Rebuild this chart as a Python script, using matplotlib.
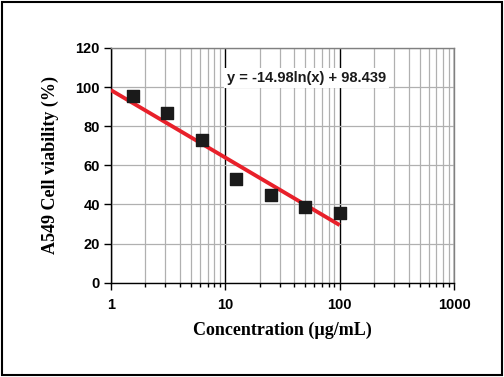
import numpy as np
import matplotlib.pyplot as plt
from matplotlib.ticker import LogLocator, NullFormatter
from matplotlib.patches import Rectangle

# Data
conc = [1.5625, 3.125, 6.25, 12.5, 25, 50, 100]
viability = [95.5, 86.5, 73.0, 53.0, 45.0, 38.8, 35.8]
slope = -14.98
intercept = 98.439
eq_label = "y = -14.98ln(x) + 98.439"

fig = plt.figure(figsize=(5.04, 3.77), dpi=100)
ax = fig.add_axes([0.220, 0.250, 0.681, 0.623])

# frame around whole picture
fig.patches.append(Rectangle((0.004, 0.005), 0.992, 0.99, transform=fig.transFigure,
                             fill=False, edgecolor='black', linewidth=1.5))

ax.set_xscale('log')
ax.set_xlim(1, 1000)
ax.set_ylim(0, 120)
ax.set_yticks(np.arange(0, 121, 20))
ax.xaxis.set_minor_locator(LogLocator(base=10, subs=np.arange(2, 10)))
ax.xaxis.set_minor_formatter(NullFormatter())
ax.set_xticks([1, 10, 100, 1000])
ax.set_xticklabels(['1', '10', '100', '1000'])

# grid: grey minor / horizontal, black major verticals
ax.grid(True, which='minor', axis='x', color='#b0b0b0', linewidth=0.9)
ax.grid(True, which='major', axis='y', color='#b0b0b0', linewidth=0.9)
ax.grid(True, which='major', axis='x', color='black', linewidth=1.0)
ax.set_axisbelow(True)

for s in ax.spines.values():
    s.set_color('#808080')
    s.set_linewidth(1.0)
ax.spines['left'].set_color('black')
ax.spines['bottom'].set_color('black')

ax.tick_params(axis='both', which='major', direction='out', length=5, width=1,
               labelsize=10.5, pad=3)
ax.tick_params(axis='x', which='minor', direction='out', length=3, width=1)
for lab in ax.get_xticklabels() + ax.get_yticklabels():
    lab.set_fontfamily('Liberation Sans')
    lab.set_fontweight('bold')
ax.tick_params(axis='x', which='major', pad=6)

# trend line
xf = np.logspace(0, 2, 100)
ax.plot(xf, slope * np.log(xf) + intercept, color='#e8202a', linewidth=2.8,
        solid_capstyle='butt', zorder=3)
ax.scatter(conc, viability, marker='s', s=70, color='#1a1a1a', zorder=4)

ax.text(0.338, 0.872, eq_label, transform=ax.transAxes, fontsize=10.5,
        fontfamily='Liberation Sans', fontweight='bold', color='#1a1a1a',
        va='center', bbox=dict(facecolor='white', edgecolor='none', pad=2), zorder=5)

ax.set_xlabel('Concentration (µg/mL)', fontfamily='Liberation Serif',
              fontweight='bold', fontsize=13, labelpad=7)
ax.set_ylabel('A549 Cell viability (%)', fontfamily='Liberation Serif',
              fontweight='bold', fontsize=13, labelpad=12)

fig.savefig('out.png', dpi=100)
